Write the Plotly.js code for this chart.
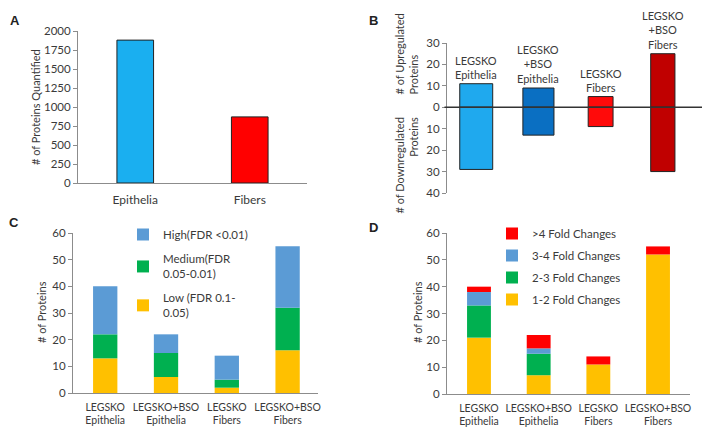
<!DOCTYPE html>
<html>
<head>
<meta charset="utf-8">
<script src="https://cdn.plot.ly/plotly-3.0.1.min.js"></script>
<style>
  html, body { margin: 0; padding: 0; background: #fff; }
  #chart { width: 714px; height: 441px; }
</style>
</head>
<body>
<div id="chart"></div>
<script>
// A: proteins quantified
const tissues = ["Epithelia", "Fibers"];
const quantified = [1880, 870];

// B: up / down regulated
const groupsB = ["LEGSKO<br>Epithelia", "LEGSKO<br>+BSO<br>Epithelia", "LEGSKO<br>Fibers", "LEGSKO<br>+BSO<br>Fibers"];
const upregulated = [11, 9, 5, 25];
const downregulated = [29, 13, 9, 30];

// C and D categories
const groups = ["LEGSKO<br>Epithelia", "LEGSKO+BSO<br>Epithelia", "LEGSKO<br>Fibers", "LEGSKO+BSO<br>Fibers"];

// C: confidence levels
const lowConf = [13, 6, 2, 16];
const medConf = [9, 9, 3, 16];
const highConf = [18, 7, 9, 23];

// D: fold changes
const fold12 = [21, 7, 11, 52];
const fold23 = [12, 8, 0, 0];
const fold34 = [5, 2, 0, 0];
const fold4 = [2, 5, 3, 3];

const W = 714, H = 441;
const px = x => x / W;
const py = y => 1 - y / H;

const FONT = "Lato, 'Liberation Sans', sans-serif";
const TXT = "#3a3a3a";
const AXC = "#8c8c8c";

let data = [];

// panel A
data.push({
    type: "bar", x: tissues, y: quantified, xaxis: "x", yaxis: "y",
    width: 0.32, showlegend: false,
    marker: { color: ["#1aaff0", "#ff0000"], line: { color: "#222", width: 1 } }
});

// panel B
let idxB = groupsB.map((g, i) => i);
let widthsB = [0.53, 0.5, 0.4, 0.39];
let colorsB = ["#1fa9ee", "#0a6fc2", "#ff0a0a", "#c00000"];
data.push({
    type: "bar", x: idxB, y: upregulated, xaxis: "x2", yaxis: "y2",
    width: widthsB, showlegend: false,
    marker: { color: colorsB, line: { color: "#222", width: 1 } }
});
data.push({
    type: "bar", x: idxB, y: downregulated.map(v => -v), xaxis: "x2", yaxis: "y2",
    width: widthsB, showlegend: false,
    marker: { color: colorsB, line: { color: "#222", width: 1 } }
});

// panel C
let seriesC = [
    { name: "Low (FDR 0.1-<br>0.05)", y: lowConf, color: "#ffc000" },
    { name: "Medium(FDR<br>0.05-0.01)", y: medConf, color: "#00b050" },
    { name: "High(FDR <0.01)", y: highConf, color: "#5b9bd5" }
];
seriesC.forEach((s, i) => {
    data.push({
        type: "bar", x: groups, y: s.y, name: s.name, xaxis: "x3", yaxis: "y3",
        width: 0.4, legend: "legend", legendgroup: "c" + i, legendrank: 100 - i,
        marker: { color: s.color }
    });
});

// panel D
let seriesD = [
    { name: "1-2 Fold Changes", y: fold12, color: "#ffc000" },
    { name: "2-3 Fold Changes", y: fold23, color: "#00b050" },
    { name: "3-4 Fold Changes", y: fold34, color: "#5b9bd5" },
    { name: ">4 Fold Changes", y: fold4, color: "#ff0000" }
];
seriesD.forEach((s, i) => {
    data.push({
        type: "bar", x: groups, y: s.y, name: s.name, xaxis: "x4", yaxis: "y4",
        width: 0.4, legend: "legend2", legendgroup: "d" + i, legendrank: 100 - i,
        marker: { color: s.color }
    });
});

let baseX = {
    showline: true, linecolor: AXC, linewidth: 1, ticks: "", showgrid: false,
    zeroline: false, fixedrange: true, tickfont: { family: FONT, size: 12, color: TXT }
};
let baseY = {
    showline: true, linecolor: AXC, linewidth: 1, ticks: "outside", ticklen: 4,
    tickcolor: AXC, showgrid: false, zeroline: false, fixedrange: true,
    tickfont: { family: FONT, size: 11.5, color: TXT }
};

let annotations = [];
function label(text, x, y, opts) {
    annotations.push(Object.assign({
        text: text, x: px(x), y: py(y), xref: "paper", yref: "paper",
        xanchor: "center", yanchor: "middle",
        showarrow: false, font: { family: FONT, size: 11, color: TXT }
    }, opts || {}));
}

// panel letters
let letterFont = { family: "Liberation Sans", size: 13, color: "#222" };
label("<b>A</b>", 15, 20, { font: letterFont });
label("<b>B</b>", 373, 20, { font: letterFont });
label("<b>C</b>", 14, 222, { font: letterFont });
label("<b>D</b>", 373, 227, { font: letterFont });

// axis titles
label("# of Proteins Quantified", 35, 107, { textangle: -90 });
label("# of Proteins", 41, 312, { textangle: -90 });
label("# of Proteins", 417, 312, { textangle: -90 });
label("# of Upregulated<br>Proteins", 406, 97, { textangle: -90, yanchor: "bottom", align: "left" });
label("# of Downregulated<br>Proteins", 406, 115, { textangle: -90, yanchor: "top", align: "right" });

// labels above bars in B
groupsB.forEach((g, i) => {
    annotations.push({
        text: g, x: i, y: upregulated[i], xref: "x2", yref: "y2",
        xanchor: "center", yanchor: "bottom", yshift: 1, showarrow: false,
        font: { family: FONT, size: 11, color: TXT }
    });
});

let layout = {
    width: W, height: H,
    margin: { l: 0, r: 0, t: 0, b: 0 },
    paper_bgcolor: "#fff", plot_bgcolor: "#fff",
    barmode: "relative",
    font: { family: FONT, color: TXT },
    xaxis: Object.assign({}, baseX, { domain: [px(78), px(307)], anchor: "y", range: [-0.5, 1.5], ticklabelstandoff: 6 }),
    yaxis: Object.assign({}, baseY, { domain: [py(183), py(31)], anchor: "x", range: [0, 2000], dtick: 250 }),
    xaxis2: Object.assign({}, baseX, { domain: [px(447), px(702)], anchor: "y2", range: [-0.47, 3.63], showline: false, showticklabels: false }),
    yaxis2: Object.assign({}, baseY, {
        domain: [py(193), py(43)], anchor: "x2", range: [-40, 30],
        tickvals: [-40, -30, -20, -10, 0, 10, 20, 30],
        ticktext: ["40", "30", "20", "10", "0", "10", "20", "30"]
    }),
    xaxis3: Object.assign({}, baseX, { domain: [px(73), px(318)], anchor: "y3", range: [-0.53, 3.5], tickfont: { family: FONT, size: 10.5, color: TXT }, ticklabelstandoff: 4 }),
    yaxis3: Object.assign({}, baseY, { domain: [py(393), py(233)], anchor: "x3", range: [0, 60], dtick: 10 }),
    xaxis4: Object.assign({}, baseX, { domain: [px(447), px(690)], anchor: "y4", range: [-0.536, 3.536], tickfont: { family: FONT, size: 10.5, color: TXT }, ticklabelstandoff: 4 }),
    yaxis4: Object.assign({}, baseY, { domain: [py(394), py(233)], anchor: "x4", range: [0, 60], dtick: 10 }),
    legend: {
        x: px(123), y: py(220), xanchor: "left", yanchor: "top",
        traceorder: "grouped", tracegroupgap: 6, bgcolor: "rgba(0,0,0,0)",
        font: { family: FONT, size: 11.5, color: TXT }
    },
    legend2: {
        x: px(492), y: py(219), xanchor: "left", yanchor: "top",
        traceorder: "grouped", tracegroupgap: 3, bgcolor: "rgba(0,0,0,0)",
        font: { family: FONT, size: 11.5, color: TXT }
    },
    shapes: [{
        type: "line", xref: "x2 domain", yref: "y2", x0: -0.01, x1: 1, y0: 0, y1: 0,
        line: { color: "#333", width: 1.5 }, layer: "above"
    }],
    annotations: annotations
};

Plotly.newPlot("chart", data, layout, { displayModeBar: false, staticPlot: true });
</script>
</body>
</html>
